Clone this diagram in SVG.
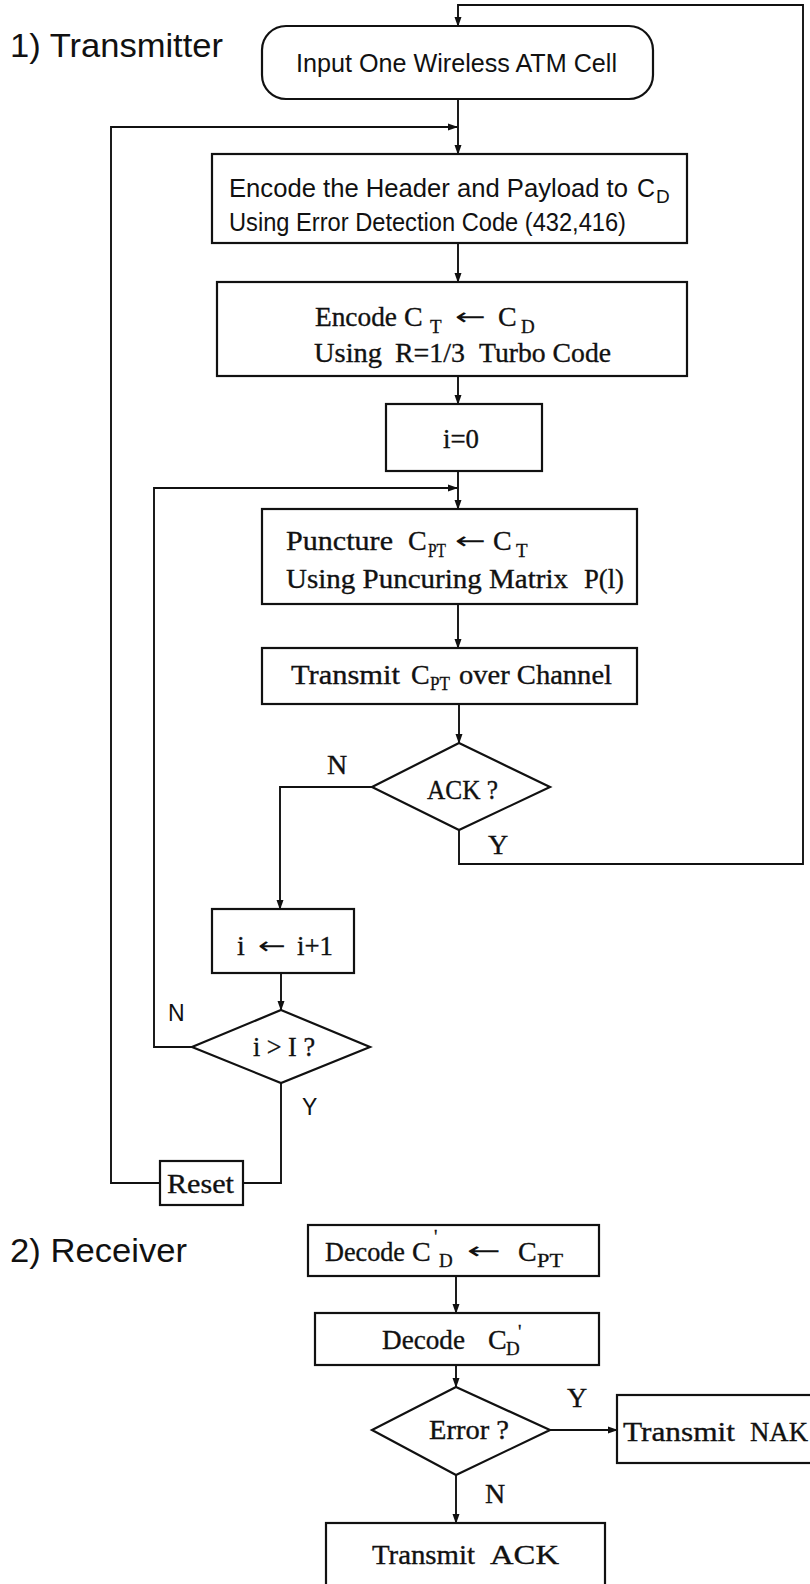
<svg xmlns="http://www.w3.org/2000/svg" width="810" height="1584" viewBox="0 0 810 1584">
<defs>
<marker id="ah" markerWidth="10" markerHeight="8" refX="9" refY="4" orient="auto" markerUnits="userSpaceOnUse">
<path d="M0,0.5 L10,4 L0,7.5 Z" fill="#111"/>
</marker>
<style>
.box{fill:#fff;stroke:#111;stroke-width:2.2}
.ln{fill:none;stroke:#111;stroke-width:1.9}
.sans{font-family:"Liberation Sans",Arial,sans-serif;fill:#111}
.ser{font-family:"Liberation Serif","Times New Roman",serif;fill:#111;font-size:28px;stroke:#111;stroke-width:0.35}
.sub{font-family:"Liberation Serif","Times New Roman",serif;fill:#111;font-size:19px;stroke:#111;stroke-width:0.3}
.ssub{font-family:"Liberation Sans",Arial,sans-serif;fill:#111;font-size:19px}
.arr{font-family:"DejaVu Sans","Liberation Serif",sans-serif;fill:#111;font-size:24px}
</style>
</defs>
<rect width="810" height="1584" fill="#fff"/>

<text class="sans" x="10" y="57" font-size="33" textLength="213" lengthAdjust="spacingAndGlyphs">1) Transmitter</text>
<text class="sans" x="10" y="1262" font-size="33" textLength="177" lengthAdjust="spacingAndGlyphs">2) Receiver</text>

<g id="connectors">
<path class="ln" d="M459,830 V864 H803 V5 H458 V26" marker-end="url(#ah)"/>
<path class="ln" d="M458,99 V154" marker-end="url(#ah)"/>
<path class="ln" d="M160,1183 H111 V127 H457" marker-end="url(#ah)"/>
<path class="ln" d="M458,243 V282" marker-end="url(#ah)"/>
<path class="ln" d="M458,376 V404" marker-end="url(#ah)"/>
<path class="ln" d="M458,471 V509" marker-end="url(#ah)"/>
<path class="ln" d="M192,1047 H154 V488 H457" marker-end="url(#ah)"/>
<path class="ln" d="M458,604 V648" marker-end="url(#ah)"/>
<path class="ln" d="M459,704 V743" marker-end="url(#ah)"/>
<path class="ln" d="M372,787 H280 V909" marker-end="url(#ah)"/>
<path class="ln" d="M281,973 V1010" marker-end="url(#ah)"/>
<path class="ln" d="M281,1083 V1183 H243"/>
<path class="ln" d="M456,1276 V1313" marker-end="url(#ah)"/>
<path class="ln" d="M456,1365 V1387" marker-end="url(#ah)"/>
<path class="ln" d="M550,1430 H617" marker-end="url(#ah)"/>
<path class="ln" d="M456,1475 V1523" marker-end="url(#ah)"/>
<text class="ser" x="327" y="774">N</text>
<text class="ser" x="488" y="854">Y</text>
<text class="sans" x="168" y="1021" font-size="23">N</text>
<text class="sans" x="302" y="1115" font-size="23">Y</text>
<text class="ser" x="567" y="1407">Y</text>
<text class="ser" x="485" y="1503">N</text>
</g>

<g id="input">
<rect class="box" x="262" y="26" width="391" height="73" rx="24"/>
<text class="sans" x="296" y="72" font-size="25" textLength="321" lengthAdjust="spacingAndGlyphs">Input One Wireless ATM Cell</text>
</g>

<g id="encode-header">
<rect class="box" x="212" y="154" width="475" height="89"/>
<text class="sans" x="229" y="197" font-size="25" textLength="399" lengthAdjust="spacingAndGlyphs">Encode the Header and Payload to</text>
<text class="sans" x="637" y="197" font-size="25">C</text>
<text class="ssub" x="656" y="203">D</text>
<text class="sans" x="229" y="231" font-size="25" textLength="397" lengthAdjust="spacingAndGlyphs">Using Error Detection Code (432,416)</text>
</g>

<g id="encode-turbo">
<rect class="box" x="217" y="282" width="470" height="94"/>
<text class="ser" x="315" y="326" textLength="82" lengthAdjust="spacingAndGlyphs">Encode</text>
<text class="ser" x="404" y="326">C</text>
<text class="sub" x="430" y="333">T</text>
<text class="arr" x="455" y="325" textLength="31" lengthAdjust="spacingAndGlyphs">←</text>
<text class="ser" x="498" y="326">C</text>
<text class="sub" x="521" y="333">D</text>
<text class="ser" x="314" y="362" textLength="68" lengthAdjust="spacingAndGlyphs">Using</text>
<text class="ser" x="395" y="362" textLength="70" lengthAdjust="spacingAndGlyphs">R=1/3</text>
<text class="ser" x="479" y="362" textLength="132" lengthAdjust="spacingAndGlyphs">Turbo Code</text>
</g>

<g id="init">
<rect class="box" x="386" y="404" width="156" height="67"/>
<text class="ser" x="443" y="448" textLength="36" lengthAdjust="spacingAndGlyphs">i=0</text>
</g>

<g id="puncture">
<rect class="box" x="262" y="509" width="375" height="95"/>
<text class="ser" x="286" y="550" textLength="107" lengthAdjust="spacingAndGlyphs">Puncture</text>
<text class="ser" x="408" y="550">C</text>
<text class="sub" x="428" y="557" textLength="18" lengthAdjust="spacingAndGlyphs">PT</text>
<text class="arr" x="455" y="549" textLength="31" lengthAdjust="spacingAndGlyphs">←</text>
<text class="ser" x="493" y="550">C</text>
<text class="sub" x="516" y="557">T</text>
<text class="ser" x="286" y="588" textLength="282" lengthAdjust="spacingAndGlyphs">Using Puncuring Matrix</text>
<text class="ser" x="584" y="588" textLength="40" lengthAdjust="spacingAndGlyphs">P(l)</text>
</g>

<g id="transmit">
<rect class="box" x="262" y="648" width="375" height="56"/>
<text class="ser" x="291" y="684" textLength="109" lengthAdjust="spacingAndGlyphs">Transmit</text>
<text class="ser" x="411" y="684">C</text>
<text class="sub" x="430" y="690" textLength="20" lengthAdjust="spacingAndGlyphs">PT</text>
<text class="ser" x="459" y="684" textLength="153" lengthAdjust="spacingAndGlyphs">over Channel</text>
</g>

<g id="ack-check">
<polygon class="box" points="459,743 550,787 459,830 372,787"/>
<text class="ser" x="427" y="799" textLength="71" lengthAdjust="spacingAndGlyphs">ACK ?</text>
</g>

<g id="increment">
<rect class="box" x="212" y="909" width="142" height="64"/>
<text class="ser" x="237" y="955">i</text>
<text class="arr" x="258" y="954" textLength="28" lengthAdjust="spacingAndGlyphs">←</text>
<text class="ser" x="297" y="955" textLength="36" lengthAdjust="spacingAndGlyphs">i+1</text>
</g>

<g id="limit-check">
<polygon class="box" points="281,1010 370,1047 281,1083 192,1047"/>
<text class="ser" x="253" y="1056" textLength="62" lengthAdjust="spacingAndGlyphs">i &gt; I ?</text>
</g>

<g id="reset">
<rect class="box" x="160" y="1161" width="83" height="44"/>
<text class="ser" x="167" y="1193" textLength="67" lengthAdjust="spacingAndGlyphs">Reset</text>
</g>

<g id="decode-turbo">
<rect class="box" x="308" y="1225" width="291" height="51"/>
<text class="ser" x="325" y="1261" textLength="80" lengthAdjust="spacingAndGlyphs">Decode</text>
<text class="ser" x="412" y="1261">C</text>
<text class="sub" x="434" y="1243">'</text>
<text class="sub" x="439" y="1267">D</text>
<text class="arr" x="467" y="1259" textLength="34" lengthAdjust="spacingAndGlyphs">←</text>
<text class="ser" x="518" y="1261">C</text>
<text class="sub" x="537" y="1267" textLength="26" lengthAdjust="spacingAndGlyphs">PT</text>
</g>

<g id="decode-check">
<rect class="box" x="315" y="1313" width="284" height="52"/>
<text class="ser" x="382" y="1349" textLength="83" lengthAdjust="spacingAndGlyphs">Decode</text>
<text class="ser" x="488" y="1349">C</text>
<text class="sub" x="506" y="1355">D</text>
<text class="sub" x="518" y="1338">'</text>
</g>

<g id="error-check">
<polygon class="box" points="456,1387 550,1430 456,1475 372,1430"/>
<text class="ser" x="429" y="1439" textLength="80" lengthAdjust="spacingAndGlyphs">Error ?</text>
</g>

<g id="nak">
<rect class="box" x="617" y="1395" width="200" height="68"/>
<text class="ser" x="623" y="1441" textLength="112" lengthAdjust="spacingAndGlyphs">Transmit</text>
<text class="ser" x="750" y="1441" textLength="58" lengthAdjust="spacingAndGlyphs">NAK</text>
</g>

<g id="ack">
<rect class="box" x="326" y="1523" width="279" height="80"/>
<text class="ser" x="372" y="1564" textLength="103" lengthAdjust="spacingAndGlyphs">Transmit</text>
<text class="ser" x="490" y="1564" textLength="69" lengthAdjust="spacingAndGlyphs">ACK</text>
</g>
</svg>
